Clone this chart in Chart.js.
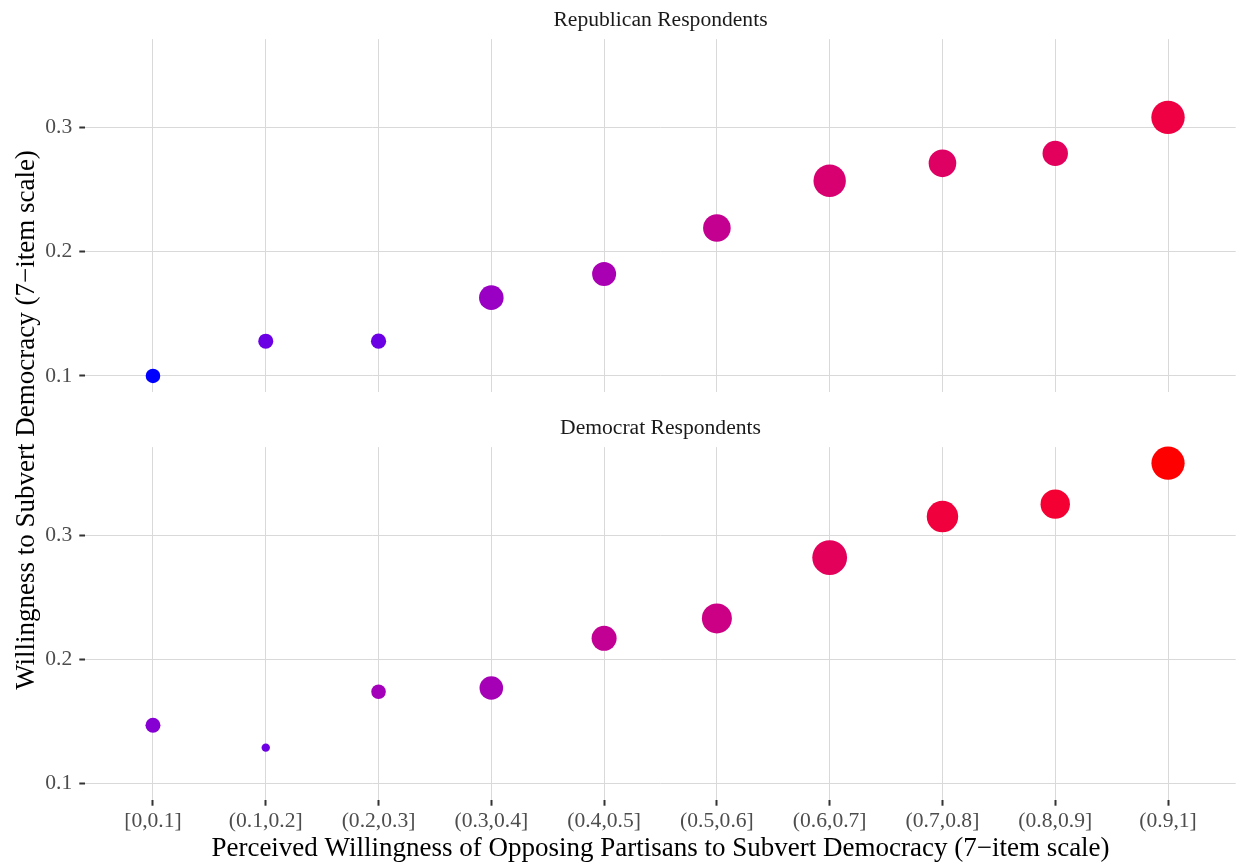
<!DOCTYPE html>
<html>
<head>
<meta charset="utf-8">
<title>Willingness to Subvert Democracy by Perceived Out-Party Willingness</title>
<script src="https://cdn.jsdelivr.net/npm/chart.js@4.4.1/dist/chart.umd.min.js"></script>
<style>
  html, body { margin: 0; padding: 0; background: #ffffff; }
  #wrap { position: relative; width: 1238px; height: 865px; overflow: hidden; background: #ffffff; }
  #wrap canvas { position: absolute; left: 0; }
  #ytitle {
    position: absolute; width: 800px; height: 30px; line-height: 30px;
    left: -375.5px; top: 404.5px; transform: rotate(-90deg);
    text-align: center; white-space: nowrap; color: #000000;
    font-family: 'Liberation Serif', 'Times New Roman', serif; font-size: 27px;
  }
</style>
</head>
<body>
<div id="wrap">
  <canvas id="repChart" width="1238" height="408" style="top:0px"></canvas>
  <canvas id="demChart" width="1238" height="457" style="top:408px"></canvas>
  <div id="ytitle">Willingness to Subvert Democracy (7−item scale)</div>
</div>
<script>
// Bins of perceived willingness of opposing partisans to subvert democracy
const categories = ['[0,0.1]', '(0.1,0.2]', '(0.2,0.3]', '(0.3,0.4]', '(0.4,0.5]',
                    '(0.5,0.6]', '(0.6,0.7]', '(0.7,0.8]', '(0.8,0.9]', '(0.9,1]'];

// Mean own willingness to subvert democracy, per bin
const repMean = [0.100, 0.128, 0.128, 0.163, 0.182, 0.219, 0.257, 0.271, 0.279, 0.308];
const demMean = [0.147, 0.129, 0.174, 0.177, 0.217, 0.233, 0.282, 0.315, 0.325, 0.358];

// Marker radius per bin (encodes how many respondents fall in the bin)
const repRadius = [7.3, 7.5, 7.6, 12.3, 12.0, 13.8, 16.2, 13.8, 12.7, 16.7];
const demRadius = [7.5, 4.2, 7.3, 11.8, 12.5, 15.0, 17.4, 15.7, 14.7, 16.6];

const yTicks = [0.1, 0.2, 0.3];
const panelTitles = ['Republican Respondents', 'Democrat Respondents'];
const xTitle = 'Perceived Willingness of Opposing Partisans to Subvert Democracy (7−item scale)';

const SERIF = "'Liberation Serif', 'Times New Roman', serif";
const GRID = '#D9D9D9';
const TICK_MARK = '#333333';
const TICK_TEXT = '#4D4D4D';

// Shared y range: data range plus 5% on each side
const allVals = repMean.concat(demMean);
const lo = Math.min(...allVals), hi = Math.max(...allVals);
const yPad = (hi - lo) * 0.05;
const yMin = lo - yPad, yMax = hi + yPad;

// Blue-to-red colour gradient interpolated in CIELAB
function toLinear(c) { c /= 255; return c <= 0.04045 ? c / 12.92 : Math.pow((c + 0.055) / 1.055, 2.4); }
function fromLinear(c) { const v = c <= 0.0031308 ? 12.92 * c : 1.055 * Math.pow(c, 1 / 2.4) - 0.055; return Math.round(Math.max(0, Math.min(1, v)) * 255); }
function rgbToLab(rgb) {
  const R = toLinear(rgb[0]), G = toLinear(rgb[1]), B = toLinear(rgb[2]);
  const X = (0.4124 * R + 0.3576 * G + 0.1805 * B) / 0.95047;
  const Y = (0.2126 * R + 0.7152 * G + 0.0722 * B);
  const Z = (0.0193 * R + 0.1192 * G + 0.9505 * B) / 1.08883;
  const f = t => t > 0.008856 ? Math.cbrt(t) : 7.787 * t + 16 / 116;
  const fx = f(X), fy = f(Y), fz = f(Z);
  return [116 * fy - 16, 500 * (fx - fy), 200 * (fy - fz)];
}
function labToRgb(lab) {
  const fy = (lab[0] + 16) / 116, fx = fy + lab[1] / 500, fz = fy - lab[2] / 200;
  const inv = t => t > 0.206893 ? t * t * t : (t - 16 / 116) / 7.787;
  const X = inv(fx) * 0.95047, Y = inv(fy), Z = inv(fz) * 1.08883;
  const R = 3.2406 * X - 1.5372 * Y - 0.4986 * Z;
  const G = -0.9689 * X + 1.8758 * Y + 0.0415 * Z;
  const B = 0.0557 * X - 0.2040 * Y + 1.0570 * Z;
  return 'rgb(' + fromLinear(R) + ',' + fromLinear(G) + ',' + fromLinear(B) + ')';
}
const labLow = rgbToLab([0, 0, 255]);
const labHigh = rgbToLab([255, 0, 0]);
function colorFor(v) {
  const t = (v - lo) / (hi - lo);
  return labToRgb([0, 1, 2].map(k => labLow[k] + (labHigh[k] - labLow[k]) * t));
}

function makePanel(canvasId, title, values, radii, showXAxis) {
  return new Chart(document.getElementById(canvasId), {
    type: 'scatter',
    data: {
      datasets: [{
        data: values.map((v, i) => ({ x: i, y: v })),
        pointRadius: radii,
        pointHoverRadius: radii,
        pointBackgroundColor: values.map(colorFor),
        pointHoverBackgroundColor: values.map(colorFor),
        pointBorderWidth: 0,
        pointHoverBorderWidth: 0,
        pointBorderColor: 'rgba(0,0,0,0)',
        clip: false
      }]
    },
    options: {
      responsive: false,
      animation: false,
      devicePixelRatio: 1,
      events: [],
      layout: {
        autoPadding: false,
        padding: { left: 0, right: 2.3, top: 0, bottom: showXAxis ? 0 : 16 }
      },
      plugins: {
        legend: { display: false },
        tooltip: { enabled: false },
        title: {
          display: true,
          fullSize: false,
          text: title,
          color: '#1A1A1A',
          font: { family: SERIF, size: 21.6, weight: 'normal', lineHeight: 1.2 },
          padding: { top: 7.6, bottom: 5.6 }
        }
      },
      scales: {
        x: {
          type: 'linear',
          min: -0.6,
          max: 9.6,
          border: { display: false },
          grid: { color: GRID, lineWidth: 1, drawTicks: showXAxis, tickLength: 6, tickColor: TICK_MARK, tickWidth: 2 },
          ticks: {
            display: showXAxis,
            color: TICK_TEXT,
            font: { family: SERIF, size: 21.6, lineHeight: 1.2 },
            padding: 3,
            maxRotation: 0,
            autoSkip: false,
            callback: v => categories[v]
          },
          afterBuildTicks: s => { s.ticks = categories.map((_, i) => ({ value: i })); },
          afterFit: s => { s.height = showXAxis ? 65.3 : 0; s.paddingLeft = 0; s.paddingRight = 0; },
          title: {
            display: showXAxis,
            text: xTitle,
            color: '#000000',
            font: { family: SERIF, size: 27, lineHeight: 1.2 },
            padding: { top: 0, bottom: -0.3 }
          }
        },
        y: {
          min: yMin,
          max: yMax,
          border: { display: false },
          grid: { color: GRID, lineWidth: 1, drawTicks: true, tickLength: 6, tickColor: TICK_MARK, tickWidth: 2 },
          ticks: {
            color: TICK_TEXT,
            font: { family: SERIF, size: 21.6, lineHeight: 1.2 },
            padding: 7,
            callback: v => v.toFixed(1)
          },
          afterBuildTicks: s => { s.ticks = yTicks.map(v => ({ value: v })); },
          afterFit: s => { s.width = 85.3; s.paddingTop = 0; s.paddingBottom = 0; }
        }
      }
    }
  });
}

makePanel('repChart', panelTitles[0], repMean, repRadius, false);
makePanel('demChart', panelTitles[1], demMean, demRadius, true);
</script>
</body>
</html>
